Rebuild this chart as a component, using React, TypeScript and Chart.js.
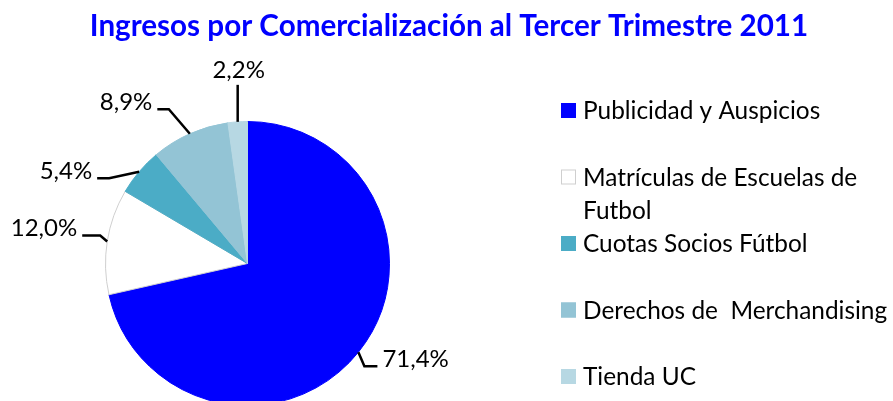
import React, { useEffect, useRef } from "react";
import { Chart, registerables } from "chart.js";

Chart.register(...registerables);

const TITLE = "Ingresos por Comercialización al Tercer Trimestre 2011";
const categories = [
  "Publicidad y Auspicios",
  "Matrículas de Escuelas de Futbol",
  "Cuotas Socios Fútbol",
  "Derechos de  Merchandising",
  "Tienda UC",
];
const shares = [71.4, 12.0, 5.4, 8.9, 2.2];
const fillColors = ["#0000FF", "#FFFFFF", "#4BACC6", "#93C4D5", "#B7D8E3"];
const borderColors = ["#0000FF", "#CFCFCF", "#4BACC6", "#93C4D5", "#B7D8E3"];

// leader line geometry relative to the slice edge point (elbow, end, side)
const leaders = [
  { ex: 6, ey: 14, hx: 19, side: "right" },
  { ex: -7, ey: -6, hx: -25, side: "left" },
  { ex: -30, ey: 6.5, hx: -42, side: "left" },
  { ex: -21, ey: -24.5, hx: -32.5, side: "left" },
  { ex: 0, ey: -37, hx: 0, side: "top" },
];

const FONT = "Lato, 'Open Sans', sans-serif";

const fmt = (v: number) => v.toFixed(1).replace(".", ",") + "%";

const overlayPlugin = {
  id: "overlay",
  afterDraw(chart: any) {
    const ctx = chart.ctx as CanvasRenderingContext2D;
    ctx.save();
    // title
    ctx.fillStyle = "#0000FF";
    ctx.font = `bold 29.6px ${FONT}`;
    ctx.textAlign = "center";
    ctx.textBaseline = "alphabetic";
    ctx.fillText(TITLE, 449, 36);

    // data labels with leader lines
    const meta = chart.getDatasetMeta(0);
    meta.data.forEach((arc: any, i: number) => {
      const p = arc.getProps(["x", "y", "startAngle", "endAngle", "outerRadius"], true);
      const mid = (p.startAngle + p.endAngle) / 2;
      const sx = p.x + Math.cos(mid) * p.outerRadius;
      const sy = p.y + Math.sin(mid) * p.outerRadius;
      const L = leaders[i];
      const bx = sx + L.ex;
      const by = sy + L.ey;
      const hx = sx + L.hx;
      ctx.strokeStyle = "#000000";
      ctx.lineWidth = 2.5;
      ctx.beginPath();
      ctx.moveTo(sx, sy);
      ctx.lineTo(bx, by);
      if (L.side !== "top") ctx.lineTo(hx, by);
      ctx.stroke();
      ctx.fillStyle = "#000000";
      ctx.font = `24px ${FONT}`;
      const txt = fmt(shares[i]);
      if (L.side === "right") {
        ctx.textAlign = "left";
        ctx.fillText(txt, hx + 5, by + 1);
      } else if (L.side === "left") {
        ctx.textAlign = "right";
        ctx.fillText(txt, hx - 5, by + 1);
      } else {
        ctx.textAlign = "center";
        ctx.fillText(txt, bx + 1, by - 7);
      }
    });

    // legend
    const markerX = 561;
    const textX = 583;
    const baseY = 119;
    const step = 66.5;
    const lineH = 33;
    const maxW = 318;
    ctx.font = `24.4px ${FONT}`;
    ctx.textAlign = "left";
    categories.forEach((cat, i) => {
      const y = baseY + i * step;
      ctx.fillStyle = fillColors[i];
      ctx.fillRect(markerX, y - 16, 15, 15);
      ctx.strokeStyle = borderColors[i];
      ctx.lineWidth = 1;
      ctx.strokeRect(markerX + 0.5, y - 15.5, 14, 14);
      // wrap words
      const words = cat.split(" ");
      const lines: string[] = [];
      let cur = "";
      words.forEach((w) => {
        const test = cur === "" ? w : cur + " " + w;
        if (ctx.measureText(test).width > maxW && cur.trim() !== "") {
          lines.push(cur);
          cur = w;
        } else {
          cur = test;
        }
      });
      lines.push(cur);
      ctx.fillStyle = "#000000";
      lines.forEach((ln, k) => ctx.fillText(ln, textX, y + k * lineH));
    });
    ctx.restore();
  },
};

export default function App() {
  const ref = useRef<HTMLCanvasElement | null>(null);
  useEffect(() => {
    if (!ref.current) return;
    const chart = new Chart(ref.current, {
      type: "pie",
      data: {
        labels: categories,
        datasets: [
          {
            data: shares,
            backgroundColor: fillColors,
            borderColor: borderColors,
            borderWidth: 1,
          },
        ],
      },
      options: {
        responsive: false,
        maintainAspectRatio: false,
        animation: false,
        radius: 142,
        layout: { padding: { left: 105, top: 121, right: 503, bottom: 14 } },
        plugins: {
          legend: { display: false },
          title: { display: false },
          tooltip: { enabled: false },
        },
      } as any,
      plugins: [overlayPlugin],
    });
    return () => chart.destroy();
  }, []);
  return (
    <div
      style={{
        position: "absolute",
        left: 0,
        top: 0,
        width: 893,
        height: 401,
        overflow: "hidden",
        background: "#FFFFFF",
      }}
    >
      <canvas ref={ref} width={893} height={420} style={{ display: "block" }} />
    </div>
  );
}
